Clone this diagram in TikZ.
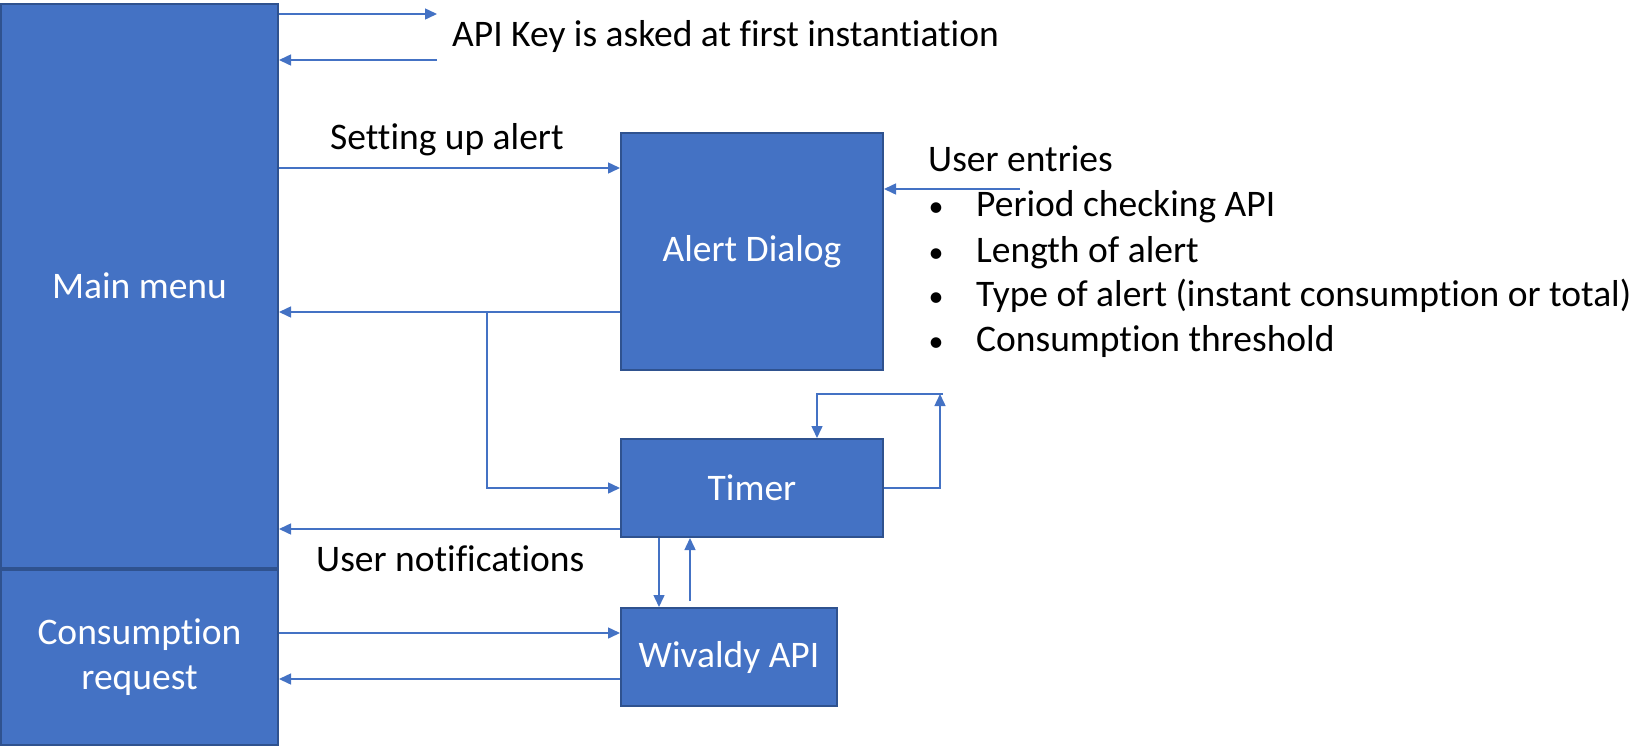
\documentclass[tikz,border=0pt]{standalone}
\usepackage{fontspec}
\setmainfont{Carlito}[Ligatures=NoCommon]
\usetikzlibrary{positioning}
\usetikzlibrary{arrows.meta}
\definecolor{boxblue}{HTML}{4472C4}
\definecolor{boxedge}{HTML}{2F528F}

\begin{document}
\begin{tikzpicture}[x=1pt,y=-1pt,
  box/.style={rectangle,draw=boxedge,line width=2pt,fill=boxblue,text=white,
    font=\fontsize{37.5}{45.5}\selectfont,align=center,inner sep=0pt},
  arr/.style={draw=boxblue,line width=1.5pt,-{Triangle[length=12pt,width=11pt]}},
  lbl/.style={font=\fontsize{37.5}{45}\selectfont,inner sep=0pt}]
  \useasboundingbox (0,0) rectangle (1652,745);

  \node[box,minimum width=277pt,minimum height=564pt] (menu) at (139.5,286) {Main menu};
  \node[box,minimum width=277pt,minimum height=175pt] (cons) at (139.5,657) {Consumption\\request};
  \node[box,minimum width=262pt,minimum height=237pt] (alert) at (752,251.5) {Alert Dialog};
  \node[box,minimum width=262pt,minimum height=98pt] (timer) at (752,488) {Timer};
  \node[box,minimum width=216pt,minimum height=98pt] (wivaldy) at (729,657) {Wivaldy API};

  \coordinate (keyout) at (437,14);
  \coordinate (keyin) at (437,60);
  \coordinate (setup) at (450,168);
  \coordinate (back) at (487,312);
  \coordinate (notify) at (450,529);
  \coordinate (request) at (450,633);
  \coordinate (reply) at (450,679);
  \coordinate (entries) at (1020,189);
  \coordinate (loop) at (940,394);

  \draw[arr] (menu.east |- keyout) -- (keyout);
  \draw[arr] (keyin) -- (menu.east |- keyin);
  \draw[arr] (menu.east |- setup) -- (alert.west |- setup);
  \draw[arr] (alert.west |- back) -- (menu.east |- back);
  \draw[arr] (back) |- (timer.west);
  \draw[arr] (timer.west |- notify) -- (menu.east |- notify);
  \draw[arr] (timer.east) -| (loop);
  \draw[arr] ([xshift=3pt]loop) -| ([xshift=65pt]timer.north);
  \draw[arr] ([xshift=-93pt]timer.south) -- ([xshift=-70pt]wivaldy.north);
  \draw[arr] ([xshift=-39pt,yshift=6pt]wivaldy.north) -- ([xshift=-62pt]timer.south);
  \draw[arr] (cons.east |- request) -- (wivaldy.west |- request);
  \draw[arr] (wivaldy.west |- reply) -- (cons.east |- reply);
  \draw[arr] (entries) -- (alert.east |- entries);

  \node[lbl,anchor=base west] (keytxt) at (452,46) {API Key is asked at first instantiation};
  \node[lbl,anchor=base west] (setuptxt) at (330,149) {Setting up alert};
  \node[lbl,anchor=base west] (notifytxt) at (316,571) {User notifications};
  \node[lbl,anchor=base west] (entriestxt) at (928,171) {User entries};
  \foreach \y/\t [count=\i] in {216/Period checking API,262/Length of alert,
      306/Type of alert (instant consumption or total),351/Consumption threshold} {
    \node[lbl,anchor=base,font=\fontsize{30}{36}\selectfont] (bullet\i) at (936,\y) {\textbullet};
    \node[lbl,anchor=base west] (item\i) at (976,\y) {\t};
  }
\end{tikzpicture}
\end{document}
